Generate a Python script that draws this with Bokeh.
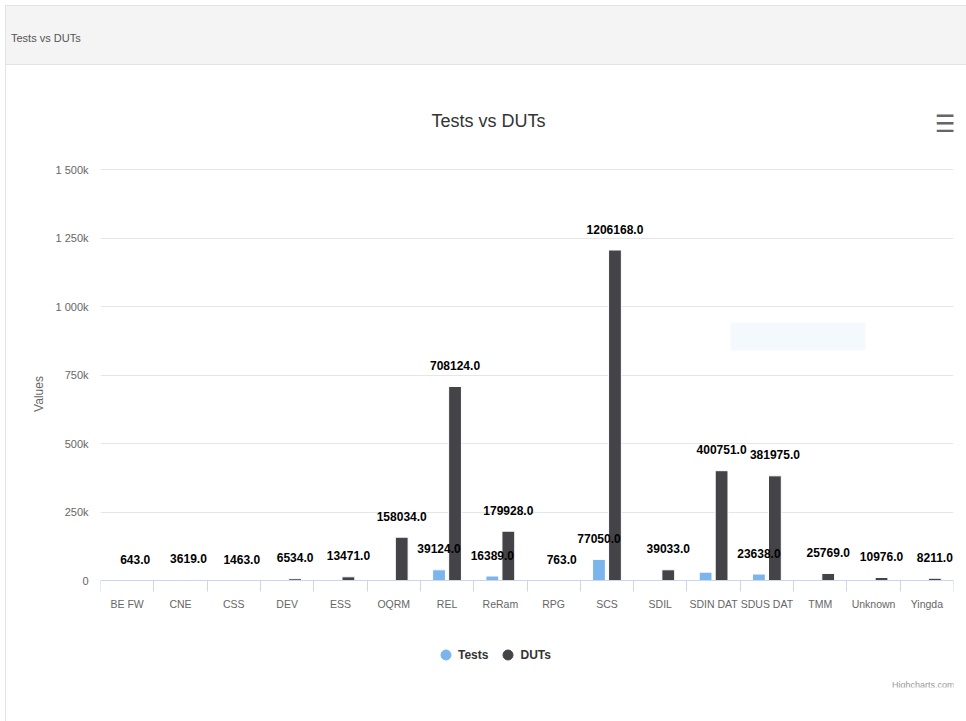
from bokeh.plotting import figure
from bokeh.layouts import column
from bokeh.models import (Range1d, FixedTicker, Label, BoxAnnotation, Legend,
                          LegendItem, ColumnDataSource, Div)
from bokeh.transform import dodge
from bokeh.core.properties import value
from bokeh.embed import file_html
from bokeh.resources import INLINE

# ---------------- data ----------------
categories = ["BE FW", "CNE", "CSS", "DEV", "ESS", "OQRM", "REL", "ReRam", "RPG",
              "SCS", "SDIL", "SDIN DAT", "SDUS DAT", "TMM", "Unknown", "Yingda"]
duts = [643, 3619, 1463, 6534, 13471, 158034, 708124, 179928, 763,
        1206168, 39033, 400751, 381975, 25769, 10976, 8211]
tests = [40, 210, 95, 380, 820, 1500, 39124, 16389, 55,
         77050, 1900, 30500, 23638, 1400, 650, 480]
tests_labelled = ["REL", "ReRam", "SCS", "SDUS DAT"]
y_ticks = [0, 250000, 500000, 750000, 1000000, 1250000, 1500000]
y_tick_labels = ["0", "250k", "500k", "750k", "1 000k", "1 250k", "1 500k"]

# ---------------- layout constants (absolute page pixels) ----------------
PAGE_W, PAGE_H = 966, 721
HEADER_TOP, HEADER_H = 5, 60
FIG_LEFT = 6                      # 5px margin + 1px border
FIG_TOP = HEADER_TOP + HEADER_H
FIG_W, FIG_H = PAGE_W - FIG_LEFT, PAGE_H - FIG_TOP
FL, FR = 100, 953                 # frame left / right
FRAME_TOP = 100
AXIS_PANEL = 34
FRAME_BOTTOM = PAGE_H - AXIS_PANEL
ZERO_Y, TOP_Y = 580, 169          # where 0 and 1 500k sit
n = len(categories)
YMAX = 1500000
PER_PX = YMAX / (ZERO_Y - TOP_Y)

def sx(px):
    return (px - FL) / (FR - FL) * n

def sy(py):
    return (ZERO_Y - py) * PER_PX

FONT = "Liberation Sans"

p = figure(width=FIG_W, height=FIG_H, output_backend="svg", toolbar_location=None,
           x_range=Range1d(0, n),
           y_range=Range1d(sy(FRAME_BOTTOM), sy(FRAME_TOP)),
           min_border_left=FL - FIG_LEFT, min_border_right=FIG_LEFT + FIG_W - FR,
           min_border_top=FRAME_TOP - FIG_TOP, min_border_bottom=AXIS_PANEL,
           background_fill_color="white", border_fill_color="white",
           outline_line_color=None, margin=(0, 0, 0, 5),
           styles={"border-left": "1px solid #e3e3e3"})

pos = [i + 0.5 for i in range(n)]
src = ColumnDataSource(dict(
    pos=pos, tests=tests, duts=duts, cat=categories,
    tests_lbl=[f"{v:.1f}" if c in tests_labelled else "" for v, c in zip(tests, categories)],
    duts_lbl=[f"{v:.1f}" for v in duts],
))

p.vbar(x=dodge("pos", -0.15), top="tests", width=0.24, source=src,
       fill_color="#7cb5ec", line_color="white", line_width=1)
p.vbar(x=dodge("pos", 0.15), top="duts", width=0.24, source=src,
       fill_color="#434348", line_color="white", line_width=1)

lbl_kw = dict(text_font=value(FONT), text_font_style="bold", text_font_size="12px",
              text_color="#000000", text_align="center", text_baseline="middle",
              y_offset=-21, source=src)
p.text(x=dodge("pos", -0.15), y="tests", text="tests_lbl", **lbl_kw)
p.text(x=dodge("pos", 0.15), y="duts", text="duts_lbl", **lbl_kw)

# ---------------- axes ----------------
xa = p.xaxis[0]
xa.fixed_location = 0
xa.ticker = FixedTicker(ticks=pos, minor_ticks=list(range(n + 1)))
xa.major_label_overrides = {pp: c for pp, c in zip(pos, categories)}
xa.axis_line_color = "#ccd6eb"
xa.major_tick_line_color = None
xa.major_tick_out = 0
xa.major_tick_in = 0
xa.minor_tick_line_color = "#ccd6eb"
xa.minor_tick_out = 11
xa.minor_tick_in = 0
xa.major_label_standoff = 6
xa.major_label_text_font = FONT
xa.major_label_text_font_size = "10.5px"
xa.major_label_text_color = "#666666"

ya = p.yaxis[0]
ya.bounds = (0, YMAX)
ya.ticker = FixedTicker(ticks=y_ticks)
ya.major_label_overrides = {t: l for t, l in zip(y_ticks, y_tick_labels)}
ya.axis_line_color = None
ya.major_tick_line_color = None
ya.minor_tick_line_color = None
ya.major_tick_out = 0
ya.major_label_standoff = 12
ya.major_label_text_font = FONT
ya.major_label_text_font_size = "11px"
ya.major_label_text_color = "#666666"
ya.axis_label = "Values"
ya.axis_label_text_font = FONT
ya.axis_label_text_font_style = "normal"
ya.axis_label_text_font_size = "12px"
ya.axis_label_text_color = "#666666"
ya.axis_label_standoff = 6

p.xgrid.grid_line_color = None
p.ygrid.grid_line_color = "#e6e6e6"
p.ygrid.ticker = FixedTicker(ticks=y_ticks)

# ---------------- decorations ----------------
p.add_layout(Label(x=sx(488), y=sy(120), text="Tests vs DUTs", text_font=FONT,
                   text_font_size="18px", text_color="#333333",
                   text_align="center", text_baseline="middle"))
p.add_layout(Label(x=sx(945), y=sy(123), text="\u2630", text_font="DejaVu Sans",
                   text_font_size="24px", text_font_style="bold", text_color="#666666",
                   text_align="center", text_baseline="middle"))
p.add_layout(Label(x=sx(954), y=sy(684), text="Highcharts.com", text_font=FONT,
                   text_font_size="9px", text_color="#999999",
                   text_align="right", text_baseline="middle"))
p.add_layout(BoxAnnotation(left=sx(730), right=sx(865), top=sy(322), bottom=sy(350),
                           fill_color="#f1f7fe", fill_alpha=0.8, line_color=None))

# ---------------- legend ----------------
nan = float("nan")
r_t = p.scatter(x=[nan], y=[nan], marker="circle", size=10, color="#7cb5ec")
r_d = p.scatter(x=[nan], y=[nan], marker="circle", size=10, color="#434348")
GLYPH = 25
legend = Legend(items=[LegendItem(label="Tests", renderers=[r_t]),
                       LegendItem(label="DUTs", renderers=[r_d])],
                orientation="horizontal",
                location=(445 - GLYPH // 2 - FL, FRAME_BOTTOM - 655 - GLYPH // 2),
                label_text_font=FONT, label_text_font_style="bold",
                label_text_font_size="12px", label_text_color="#333333",
                border_line_color=None, background_fill_alpha=0,
                padding=0, margin=0, spacing=7, label_standoff=0,
                glyph_width=GLYPH, glyph_height=GLYPH)
p.add_layout(legend)

header = Div(text="Tests vs DUTs", width=PAGE_W - 5, height=HEADER_H, margin=(HEADER_TOP, 0, 0, 5),
             styles={"background-color": "#f4f4f4",
                     "border-top": "1px solid #e3e3e3",
                     "border-left": "1px solid #e3e3e3",
                     "border-bottom": "1px solid #e3e3e3",
                     "box-sizing": "border-box",
                     "font-family": "'Liberation Sans', sans-serif",
                     "font-size": "11px", "color": "#555555",
                     "padding-left": "5px", "padding-top": "25px"})

layout = column(header, p, spacing=0)
open("out.html", "w").write(file_html(layout, INLINE))
